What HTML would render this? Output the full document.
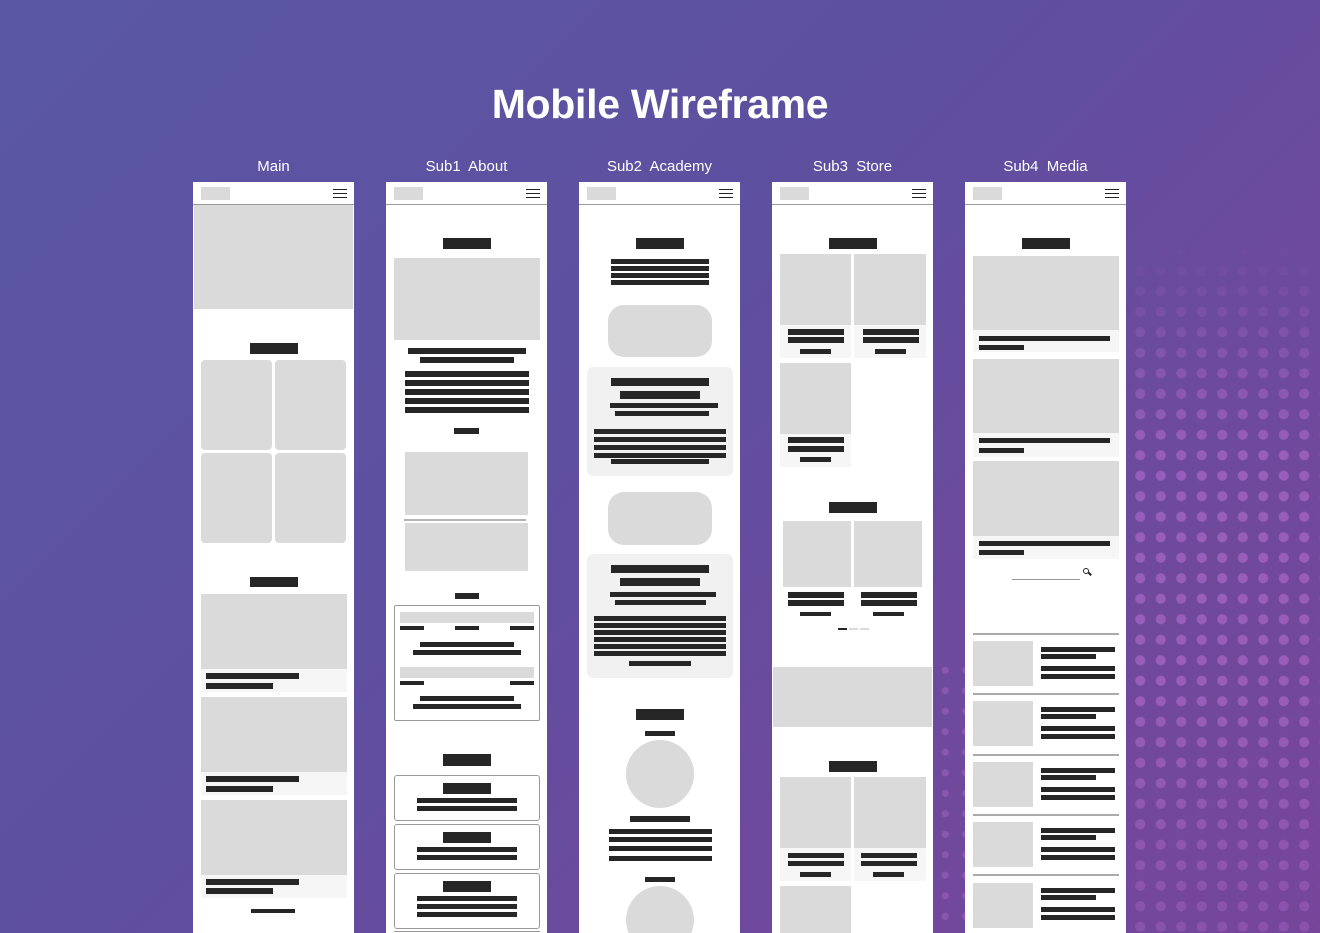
<!DOCTYPE html>
<html><head><meta charset="utf-8"><style>
*{margin:0;padding:0;box-sizing:border-box}
body{width:1320px;height:933px;overflow:hidden;position:relative;font-family:"Liberation Sans",sans-serif;background:linear-gradient(135deg,#5a58a5 0%,#5e4f9f 45%,#6d4a9e 70%,#77469b 100%)}
.dots{position:absolute;left:1130px;top:240px;width:190px;height:693px;background:radial-gradient(circle,rgba(200,120,220,.45) 0,rgba(200,120,220,.45) 4.5px,transparent 5.5px);background-size:20.5px 20.5px;background-position:0 0;-webkit-mask-image:linear-gradient(to bottom,transparent 0%,#000 30%,#000 65%,rgba(0,0,0,.55) 100%);mask-image:linear-gradient(to bottom,transparent 0%,#000 30%,#000 65%,rgba(0,0,0,.55) 100%)}
.dots2{position:absolute;left:935px;top:660px;width:30px;height:273px;background:radial-gradient(circle,rgba(200,120,220,.3) 0,rgba(200,120,220,.3) 3px,transparent 4px);background-size:20.5px 20.5px}
h1{position:absolute;left:0;width:1320px;top:81px;text-align:center;color:#fff;font-size:41px;font-weight:900;letter-spacing:-0.3px}
.lab{position:absolute;top:158px;width:161px;text-align:center;color:#fff;font-size:15px}
.col{position:absolute;top:182px;width:161px;height:751px;background:#fff;overflow:hidden}
.col i{position:absolute;display:block}
.hd{left:0;top:0;width:161px;height:23px;border-bottom:1.5px solid #9a9a9a}
.logo{left:8px;top:5px;width:29px;height:13px;background:#dadada}
.hb{left:140px;top:7px;width:14px;height:9px;border-top:1.5px solid #222;border-bottom:1.5px solid #222}
.hb:after{content:"";position:absolute;left:0;top:2.5px;width:14px;height:1.5px;background:#222}
.g{background:#dadada}.b{background:#262626}.l{background:#f6f6f6}
.r{border-radius:4px}
</style></head><body>
<div class="dots"></div><div class="dots2"></div>
<h1>Mobile Wireframe</h1>
<div class="lab" style="left:193px">Main</div>
<div class="lab" style="left:386px">Sub1&nbsp; About</div>
<div class="lab" style="left:579px">Sub2&nbsp; Academy</div>
<div class="lab" style="left:772px">Sub3&nbsp; Store</div>
<div class="lab" style="left:965px">Sub4&nbsp; Media</div>

<!-- Main -->
<div class="col" style="left:193px">
<i class="hd"></i><i class="logo"></i><i class="hb"></i>
<i class="g" style="left:1px;top:23px;width:159px;height:104px"></i>
<i class="b" style="left:57px;top:161px;width:48px;height:11px"></i>
<i class="g r" style="left:8px;top:178px;width:71px;height:90px"></i>
<i class="g r" style="left:82px;top:178px;width:71px;height:90px"></i>
<i class="g r" style="left:8px;top:271px;width:71px;height:90px"></i>
<i class="g r" style="left:82px;top:271px;width:71px;height:90px"></i>
<i class="b" style="left:57px;top:395px;width:48px;height:10px"></i>
<i class="l" style="left:8px;top:412px;width:146px;height:98px"></i>
<i class="g" style="left:8px;top:412px;width:146px;height:75px"></i>
<i class="b" style="left:13px;top:491px;width:93px;height:6px"></i>
<i class="b" style="left:13px;top:501px;width:67px;height:6px"></i>
<i class="l" style="left:8px;top:515px;width:146px;height:98px"></i>
<i class="g" style="left:8px;top:515px;width:146px;height:75px"></i>
<i class="b" style="left:13px;top:594px;width:93px;height:6px"></i>
<i class="b" style="left:13px;top:604px;width:67px;height:6px"></i>
<i class="l" style="left:8px;top:618px;width:146px;height:98px"></i>
<i class="g" style="left:8px;top:618px;width:146px;height:75px"></i>
<i class="b" style="left:13px;top:697px;width:93px;height:6px"></i>
<i class="b" style="left:13px;top:706px;width:67px;height:6px"></i>
<i class="b" style="left:58px;top:727px;width:44px;height:4px"></i>
</div>

<!-- Sub1 -->
<div class="col" style="left:386px">
<i class="hd"></i><i class="logo"></i><i class="hb"></i>
<i class="b" style="left:57px;top:56px;width:48px;height:11px"></i>
<i class="g" style="left:8px;top:76px;width:146px;height:82px"></i>
<i class="b" style="left:22px;top:166px;width:118px;height:6px"></i>
<i class="b" style="left:34px;top:175px;width:94px;height:6px"></i>
<i class="b" style="left:19px;top:189px;width:124px;height:6px"></i>
<i class="b" style="left:19px;top:198px;width:124px;height:6px"></i>
<i class="b" style="left:19px;top:207px;width:124px;height:6px"></i>
<i class="b" style="left:19px;top:216px;width:124px;height:6px"></i>
<i class="b" style="left:19px;top:225px;width:124px;height:6px"></i>
<i class="b" style="left:68px;top:246px;width:25px;height:6px"></i>
<i class="g" style="left:19px;top:270px;width:123px;height:63px"></i>
<i style="left:18px;top:337px;width:122px;height:2px;background:#b5b5b5"></i>
<i class="g" style="left:19px;top:341px;width:123px;height:48px"></i>
<i class="b" style="left:69px;top:411px;width:24px;height:6px"></i>
<i style="left:8px;top:423px;width:146px;height:116px;border:1px solid #9a9a9a;border-radius:2px"></i>
<i class="g" style="left:14px;top:430px;width:134px;height:11px"></i>
<i class="b" style="left:14px;top:444px;width:24px;height:4px"></i>
<i class="b" style="left:69px;top:444px;width:24px;height:4px"></i>
<i class="b" style="left:124px;top:444px;width:24px;height:4px"></i>
<i class="b" style="left:34px;top:460px;width:94px;height:5px"></i>
<i class="b" style="left:27px;top:468px;width:108px;height:5px"></i>
<i class="g" style="left:14px;top:485px;width:134px;height:11px"></i>
<i class="b" style="left:14px;top:499px;width:24px;height:4px"></i>
<i class="b" style="left:124px;top:499px;width:24px;height:4px"></i>
<i class="b" style="left:34px;top:514px;width:94px;height:5px"></i>
<i class="b" style="left:27px;top:522px;width:108px;height:5px"></i>
<i class="b" style="left:57px;top:572px;width:48px;height:12px"></i>
<i style="left:8px;top:593px;width:146px;height:46px;border:1px solid #9a9a9a;border-radius:3px"></i>
<i class="b" style="left:57px;top:601px;width:48px;height:11px"></i>
<i class="b" style="left:31px;top:616px;width:100px;height:5px"></i>
<i class="b" style="left:31px;top:624px;width:100px;height:5px"></i>
<i style="left:8px;top:642px;width:146px;height:46px;border:1px solid #9a9a9a;border-radius:3px"></i>
<i class="b" style="left:57px;top:650px;width:48px;height:11px"></i>
<i class="b" style="left:31px;top:665px;width:100px;height:5px"></i>
<i class="b" style="left:31px;top:673px;width:100px;height:5px"></i>
<i style="left:8px;top:691px;width:146px;height:56px;border:1px solid #9a9a9a;border-radius:3px"></i>
<i class="b" style="left:57px;top:699px;width:48px;height:11px"></i>
<i class="b" style="left:31px;top:714px;width:100px;height:5px"></i>
<i class="b" style="left:31px;top:722px;width:100px;height:5px"></i>
<i class="b" style="left:31px;top:730px;width:100px;height:5px"></i>
<i style="left:8px;top:749px;width:146px;height:4px;border-top:1px solid #9a9a9a"></i>
</div>

<!-- Sub2 -->
<div class="col" style="left:579px">
<i class="hd"></i><i class="logo"></i><i class="hb"></i>
<i class="b" style="left:57px;top:56px;width:48px;height:11px"></i>
<i class="b" style="left:32px;top:77px;width:98px;height:5px"></i>
<i class="b" style="left:32px;top:84px;width:98px;height:5px"></i>
<i class="b" style="left:32px;top:91px;width:98px;height:5px"></i>
<i class="b" style="left:32px;top:98px;width:98px;height:5px"></i>
<i class="g" style="left:29px;top:123px;width:104px;height:52px;border-radius:16px"></i>
<i style="left:8px;top:185px;width:146px;height:109px;border-radius:6px;background:#f1f1f1"></i>
<i class="b" style="left:32px;top:196px;width:98px;height:8px"></i>
<i class="b" style="left:41px;top:209px;width:80px;height:8px"></i>
<i class="b" style="left:31px;top:221px;width:108px;height:5px"></i>
<i class="b" style="left:36px;top:229px;width:94px;height:5px"></i>
<i class="b" style="left:15px;top:247px;width:132px;height:5px"></i>
<i class="b" style="left:15px;top:255px;width:132px;height:5px"></i>
<i class="b" style="left:15px;top:263px;width:132px;height:5px"></i>
<i class="b" style="left:15px;top:271px;width:132px;height:5px"></i>
<i class="b" style="left:32px;top:277px;width:98px;height:5px"></i>
<i class="g" style="left:29px;top:310px;width:104px;height:53px;border-radius:16px"></i>
<i style="left:8px;top:372px;width:146px;height:124px;border-radius:6px;background:#f1f1f1"></i>
<i class="b" style="left:32px;top:383px;width:98px;height:8px"></i>
<i class="b" style="left:41px;top:396px;width:80px;height:8px"></i>
<i class="b" style="left:31px;top:410px;width:106px;height:5px"></i>
<i class="b" style="left:36px;top:418px;width:91px;height:5px"></i>
<i class="b" style="left:15px;top:434px;width:132px;height:5px"></i>
<i class="b" style="left:15px;top:441px;width:132px;height:5px"></i>
<i class="b" style="left:15px;top:448px;width:132px;height:5px"></i>
<i class="b" style="left:15px;top:455px;width:132px;height:5px"></i>
<i class="b" style="left:15px;top:462px;width:132px;height:5px"></i>
<i class="b" style="left:15px;top:469px;width:132px;height:5px"></i>
<i class="b" style="left:50px;top:479px;width:62px;height:5px"></i>
<i class="b" style="left:57px;top:527px;width:48px;height:11px"></i>
<i class="b" style="left:66px;top:549px;width:30px;height:5px"></i>
<i class="g" style="left:47px;top:558px;width:68px;height:68px;border-radius:50%"></i>
<i class="b" style="left:51px;top:634px;width:60px;height:6px"></i>
<i class="b" style="left:30px;top:647px;width:103px;height:5px"></i>
<i class="b" style="left:30px;top:655px;width:103px;height:5px"></i>
<i class="b" style="left:30px;top:664px;width:103px;height:5px"></i>
<i class="b" style="left:30px;top:674px;width:103px;height:5px"></i>
<i class="b" style="left:66px;top:695px;width:30px;height:5px"></i>
<i class="g" style="left:47px;top:704px;width:68px;height:68px;border-radius:50%"></i>
</div>

<!-- Sub3 -->
<div class="col" style="left:772px">
<i class="hd"></i><i class="logo"></i><i class="hb"></i>
<i class="b" style="left:57px;top:56px;width:48px;height:11px"></i>
<i class="l" style="left:8px;top:72px;width:71px;height:104px"></i>
<i class="l" style="left:82px;top:72px;width:72px;height:104px"></i>
<i class="g" style="left:8px;top:72px;width:71px;height:71px"></i>
<i class="g" style="left:82px;top:72px;width:72px;height:71px"></i>
<i class="b" style="left:16px;top:147px;width:56px;height:6px"></i>
<i class="b" style="left:16px;top:155px;width:56px;height:6px"></i>
<i class="b" style="left:28px;top:167px;width:31px;height:5px"></i>
<i class="b" style="left:91px;top:147px;width:56px;height:6px"></i>
<i class="b" style="left:91px;top:155px;width:56px;height:6px"></i>
<i class="b" style="left:103px;top:167px;width:31px;height:5px"></i>
<i class="l" style="left:8px;top:181px;width:71px;height:104px"></i>
<i class="g" style="left:8px;top:181px;width:71px;height:71px"></i>
<i class="b" style="left:16px;top:255px;width:56px;height:6px"></i>
<i class="b" style="left:16px;top:264px;width:56px;height:6px"></i>
<i class="b" style="left:28px;top:275px;width:31px;height:5px"></i>
<i class="b" style="left:57px;top:320px;width:48px;height:11px"></i>
<i class="g" style="left:11px;top:339px;width:68px;height:66px"></i>
<i class="g" style="left:82px;top:339px;width:68px;height:66px"></i>
<i class="b" style="left:16px;top:410px;width:56px;height:6px"></i>
<i class="b" style="left:16px;top:418px;width:56px;height:6px"></i>
<i class="b" style="left:28px;top:430px;width:31px;height:4px"></i>
<i class="b" style="left:89px;top:410px;width:56px;height:6px"></i>
<i class="b" style="left:89px;top:418px;width:56px;height:6px"></i>
<i class="b" style="left:101px;top:430px;width:31px;height:4px"></i>
<i class="b" style="left:66px;top:446px;width:9px;height:2px"></i>
<i class="g" style="left:77px;top:446px;width:9px;height:2px"></i>
<i class="g" style="left:88px;top:446px;width:9px;height:2px"></i>
<i class="g" style="left:1px;top:485px;width:159px;height:60px"></i>
<i class="b" style="left:57px;top:579px;width:48px;height:11px"></i>
<i class="l" style="left:8px;top:595px;width:71px;height:104px"></i>
<i class="l" style="left:82px;top:595px;width:72px;height:104px"></i>
<i class="g" style="left:8px;top:595px;width:71px;height:71px"></i>
<i class="g" style="left:82px;top:595px;width:72px;height:71px"></i>
<i class="b" style="left:16px;top:671px;width:56px;height:5px"></i>
<i class="b" style="left:16px;top:679px;width:56px;height:5px"></i>
<i class="b" style="left:28px;top:690px;width:31px;height:5px"></i>
<i class="b" style="left:89px;top:671px;width:56px;height:5px"></i>
<i class="b" style="left:89px;top:679px;width:56px;height:5px"></i>
<i class="b" style="left:101px;top:690px;width:31px;height:5px"></i>
<i class="g" style="left:8px;top:704px;width:71px;height:60px"></i>
</div>

<!-- Sub4 -->
<div class="col" style="left:965px">
<i class="hd"></i><i class="logo"></i><i class="hb"></i>
<i class="b" style="left:57px;top:56px;width:48px;height:11px"></i>
<i class="l" style="left:8px;top:74px;width:146px;height:96px"></i>
<i class="g" style="left:8px;top:74px;width:146px;height:74px"></i>
<i class="b" style="left:14px;top:154px;width:131px;height:5px"></i>
<i class="b" style="left:14px;top:163px;width:45px;height:5px"></i>
<i class="l" style="left:8px;top:177px;width:146px;height:98px"></i>
<i class="g" style="left:8px;top:177px;width:146px;height:74px"></i>
<i class="b" style="left:14px;top:256px;width:131px;height:5px"></i>
<i class="b" style="left:14px;top:266px;width:45px;height:5px"></i>
<i class="l" style="left:8px;top:279px;width:146px;height:98px"></i>
<i class="g" style="left:8px;top:279px;width:146px;height:75px"></i>
<i class="b" style="left:14px;top:359px;width:131px;height:5px"></i>
<i class="b" style="left:14px;top:368px;width:45px;height:5px"></i>
<i style="left:47px;top:397px;width:68px;height:1px;background:#999"></i>
<i style="left:118px;top:386px;width:6px;height:6px;border:1.5px solid #222;border-radius:50%"></i>
<i style="left:123px;top:391px;width:4px;height:1.5px;background:#222;transform:rotate(45deg)"></i>

<i style="left:8px;top:451px;width:146px;height:2px;background:#aaa"></i>
<i class="g" style="left:8px;top:459px;width:60px;height:45px"></i>
<i class="b" style="left:76px;top:465px;width:74px;height:5px"></i>
<i class="b" style="left:76px;top:472px;width:55px;height:5px"></i>
<i class="b" style="left:76px;top:484px;width:74px;height:5px"></i>
<i class="b" style="left:76px;top:492px;width:74px;height:5px"></i>

<i style="left:8px;top:511px;width:146px;height:2px;background:#aaa"></i>
<i class="g" style="left:8px;top:519px;width:60px;height:45px"></i>
<i class="b" style="left:76px;top:525px;width:74px;height:5px"></i>
<i class="b" style="left:76px;top:532px;width:55px;height:5px"></i>
<i class="b" style="left:76px;top:544px;width:74px;height:5px"></i>
<i class="b" style="left:76px;top:552px;width:74px;height:5px"></i>

<i style="left:8px;top:572px;width:146px;height:2px;background:#aaa"></i>
<i class="g" style="left:8px;top:580px;width:60px;height:45px"></i>
<i class="b" style="left:76px;top:586px;width:74px;height:5px"></i>
<i class="b" style="left:76px;top:593px;width:55px;height:5px"></i>
<i class="b" style="left:76px;top:605px;width:74px;height:5px"></i>
<i class="b" style="left:76px;top:613px;width:74px;height:5px"></i>

<i style="left:8px;top:632px;width:146px;height:2px;background:#aaa"></i>
<i class="g" style="left:8px;top:640px;width:60px;height:45px"></i>
<i class="b" style="left:76px;top:646px;width:74px;height:5px"></i>
<i class="b" style="left:76px;top:653px;width:55px;height:5px"></i>
<i class="b" style="left:76px;top:665px;width:74px;height:5px"></i>
<i class="b" style="left:76px;top:673px;width:74px;height:5px"></i>

<i style="left:8px;top:692px;width:146px;height:2px;background:#aaa"></i>
<i class="g" style="left:8px;top:701px;width:60px;height:45px"></i>
<i class="b" style="left:76px;top:706px;width:74px;height:5px"></i>
<i class="b" style="left:76px;top:713px;width:55px;height:5px"></i>
<i class="b" style="left:76px;top:725px;width:74px;height:5px"></i>
<i class="b" style="left:76px;top:733px;width:74px;height:5px"></i>
</div>
</body></html>
